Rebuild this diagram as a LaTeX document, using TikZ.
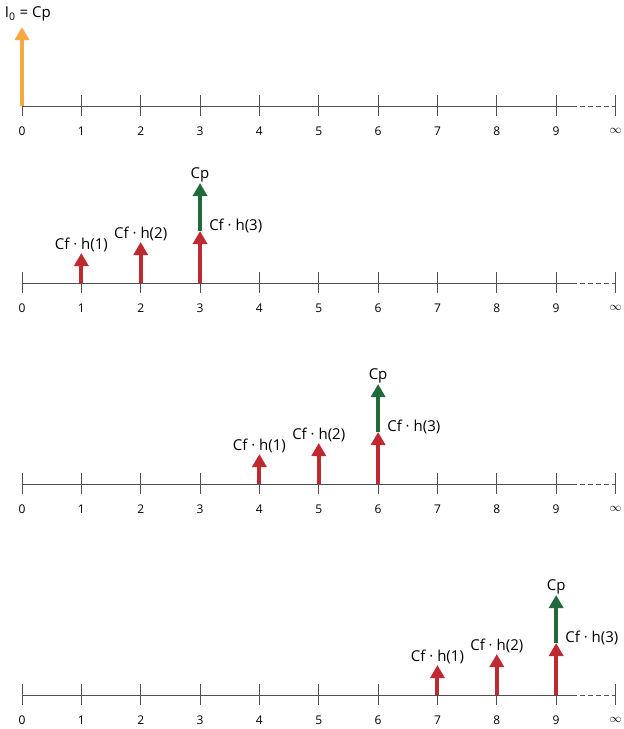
\documentclass[tikz,border=0pt]{standalone}
\usepackage{fontspec}
\setmainfont{Open Sans}
\usepackage{xcolor}
\usepackage{tikz}
\usetikzlibrary{arrows.meta,positioning}
\definecolor{pulseorange}{HTML}{F7A941}
\definecolor{pulsered}{HTML}{BE2A2F}
\definecolor{pulsegreen}{HTML}{216B3B}
\definecolor{axisgray}{HTML}{505050}

\begin{document}
\begin{tikzpicture}[x=59.35pt, y=1pt, font=\fontsize{15}{17}\selectfont,
    axisline/.style={draw=axisgray, line width=0.9pt},
    numlabel/.style={font=\fontsize{12}{14}\selectfont, inner sep=0pt},
    pulse/.style={line width=4pt, -{Triangle[width=14pt, length=13pt]}},
    pulselabel/.style={inner sep=1pt}]
\useasboundingbox (-0.3707,0) rectangle (10.1264,-729);

% time axes, one per row
\foreach \p/\ay in {a/-106, b/-283, c/-484, d/-695} {
  \coordinate (o\p) at (0,\ay);
  \coordinate (s\p) at (9.27,\ay);
  \coordinate (e\p) at (10,\ay);
  \draw[axisline] (o\p) -- (s\p);
  \draw[axisline, dash pattern=on 5pt off 3pt] (s\p) -- (e\p);
  \foreach \k/\txt in {0/0,1/1,2/2,3/3,4/4,5/5,6/6,7/7,8/8,9/9,10/$\infty$} {
    \draw[axisline] (\k,{\ay+11}) -- (\k,{\ay-10});
    \node[numlabel] (n\p\k) at (\k,{\ay-25}) {\txt};
  }
}

% row a: initial impulse
\coordinate (ba0) at (0,-106);
\coordinate (ta0) at (0,-27);
\draw[pulse, pulseorange] (ba0) -- (ta0);
\node[anchor=west, inner sep=0pt] (i0) at (-0.29,-14) {I\textsubscript{0} = Cp};

% rows b--d: shifted responses
\foreach \p/\s/\ay in {b/0/-283, c/3/-484, d/6/-695} {
  \coordinate (b\p1) at ({\s+1},\ay);
  \coordinate (b\p2) at ({\s+2},\ay);
  \coordinate (b\p3) at ({\s+3},\ay);
  \coordinate (t\p1) at ({\s+1},{\ay+30});
  \coordinate (t\p2) at ({\s+2},{\ay+41});
  \coordinate (t\p3) at ({\s+3},{\ay+52});
  \coordinate (g\p3) at ({\s+3},{\ay+100});
  \draw[pulse, pulsered] (b\p1) -- (t\p1);
  \draw[pulse, pulsered] (b\p2) -- (t\p2);
  \draw[pulse, pulsered] (b\p3) -- (t\p3);
  \draw[pulse, pulsegreen] (t\p3) -- (g\p3);
  \node[pulselabel, above=0pt of t\p1] (h\p1) {Cf · h(1)};
  \node[pulselabel, above=0pt of t\p2] (h\p2) {Cf · h(2)};
  \node[pulselabel, above=0pt of g\p3] (cp\p) {Cp};
  \node[pulselabel, right=8pt of t\p3, yshift=5pt] (h\p3) {Cf · h(3)};
}
\end{tikzpicture}
\end{document}
